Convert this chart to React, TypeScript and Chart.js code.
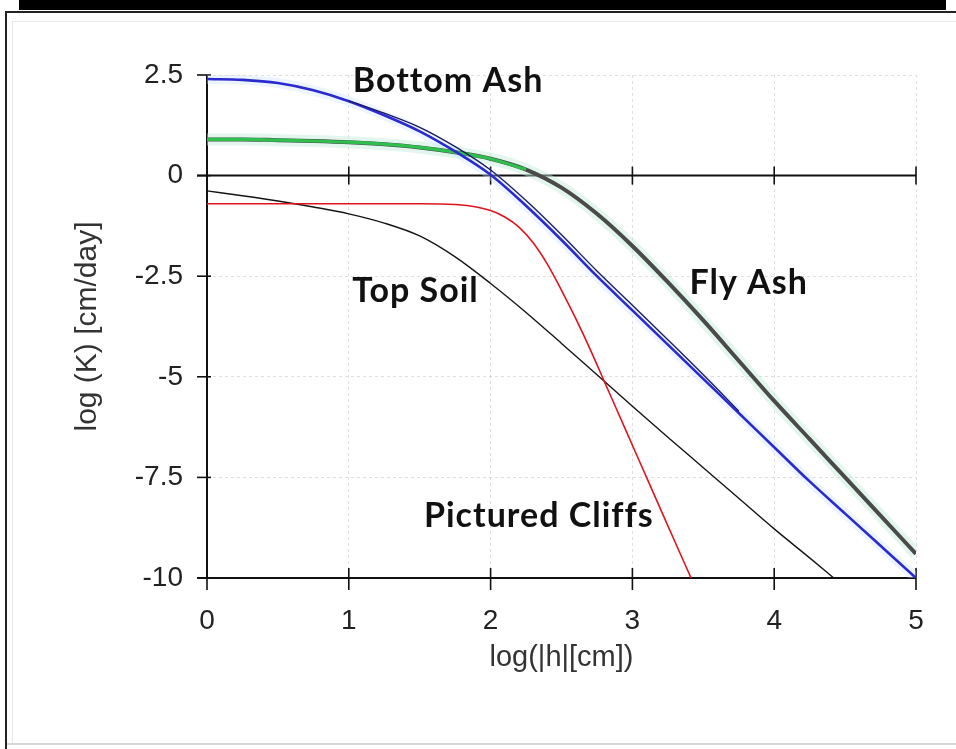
import React, { useEffect, useRef } from "react";
import { Chart, registerables } from "chart.js";

Chart.register(...registerables);

// ---- data ----
const bottomAshX = [0, 0.25, 0.5, 0.75, 1.0, 1.25, 1.5, 1.75, 2.0, 2.25, 2.5, 2.75, 3.0, 3.25, 3.5, 3.75, 4.0, 4.25, 4.5, 4.75, 5.0];
const bottomAshY = [2.4, 2.38, 2.3, 2.12, 1.85, 1.5, 1.1, 0.6, 0.02, -0.75, -1.6, -2.5, -3.35, -4.2, -5.05, -5.9, -6.75, -7.6, -8.4, -9.2, -10.0];

const bottomAshFitX = [1.0, 1.25, 1.5, 1.75, 2.0, 2.25, 2.5, 2.75, 3.0, 3.25, 3.5, 3.75];
const bottomAshFitY = [1.86, 1.55, 1.2, 0.72, 0.14, -0.62, -1.47, -2.37, -3.22, -4.08, -4.95, -5.85];

const flyAshX = [0, 0.25, 0.5, 0.75, 1.0, 1.25, 1.5, 1.75, 2.0, 2.25, 2.5, 2.75, 3.0, 3.25, 3.5, 3.75, 4.0, 4.25, 4.5, 4.75, 5.0];
const flyAshY = [0.9, 0.9, 0.88, 0.86, 0.83, 0.78, 0.7, 0.58, 0.42, 0.15, -0.3, -0.95, -1.75, -2.65, -3.6, -4.6, -5.6, -6.55, -7.5, -8.45, -9.4];

const topSoilX = [0, 0.25, 0.5, 0.75, 1.0, 1.25, 1.5, 1.75, 2.0, 2.25, 2.5, 2.75, 3.0, 3.25, 3.5, 3.75, 4.0, 4.25, 4.42];
const topSoilY = [-0.38, -0.5, -0.63, -0.78, -0.95, -1.18, -1.5, -2.02, -2.68, -3.4, -4.17, -4.95, -5.73, -6.5, -7.26, -8.02, -8.78, -9.5, -10.0];

const picturedCliffsX = [0, 0.5, 1.0, 1.5, 1.75, 1.9, 2.0, 2.1, 2.2, 2.3, 2.4, 2.5, 2.6, 2.7, 2.8, 2.9, 3.0, 3.1, 3.2, 3.3, 3.42];
const picturedCliffsY = [-0.7, -0.7, -0.7, -0.7, -0.72, -0.78, -0.87, -1.03, -1.28, -1.67, -2.2, -2.85, -3.55, -4.3, -5.1, -5.9, -6.7, -7.5, -8.3, -9.1, -10.05];

const xTicks = [0, 1, 2, 3, 4, 5];
const xTickLabels = ["0", "1", "2", "3", "4", "5"];
const yTicks = [2.5, 0, -2.5, -5, -7.5, -10];
const yTickLabels = ["2.5", "0", "-2.5", "-5", "-7.5", "-10"];

const xTitle = "log(|h|[cm])";
const yTitle = "log (K) [cm/day]";

const curveLabels = ["Bottom Ash", "Top Soil", "Fly Ash", "Pictured Cliffs"];
const curveLabelX = [1.7, 1.47, 3.82, 2.34];
const curveLabelY = [2.36, -2.87, -2.67, -8.47];

const pts = (xs: number[], ys: number[]) => xs.map((x, i) => ({ x, y: ys[i] }));

const axesPlugin = {
  id: "axesPlugin",
  beforeDatasetsDraw(chart: any) {
    const { ctx, scales } = chart;
    const xs = scales.x;
    const ys = scales.y;
    ctx.save();
    ctx.strokeStyle = "#111";
    ctx.lineWidth = 2;
    const x0 = xs.getPixelForValue(0);
    const x5 = xs.getPixelForValue(5);
    const yTop = ys.getPixelForValue(2.5);
    const yBot = ys.getPixelForValue(-10);
    const yZero = ys.getPixelForValue(0);
    ctx.beginPath();
    ctx.moveTo(x0, yTop);
    ctx.lineTo(x0, yBot);
    ctx.stroke();
    ctx.beginPath();
    ctx.moveTo(x0 - 10, yBot);
    ctx.lineTo(x5, yBot);
    ctx.stroke();
    ctx.beginPath();
    ctx.moveTo(x0 - 10, yZero);
    ctx.lineTo(x5, yZero);
    ctx.stroke();
    ctx.lineWidth = 1.6;
    yTicks.forEach((v) => {
      const p = ys.getPixelForValue(v);
      ctx.beginPath();
      ctx.moveTo(x0 - 10, p);
      ctx.lineTo(x0 + 4, p);
      ctx.stroke();
    });
    xTicks.forEach((v) => {
      const p = xs.getPixelForValue(v);
      ctx.beginPath();
      ctx.moveTo(p, yBot - 10);
      ctx.lineTo(p, yBot + 12);
      ctx.stroke();
      if (v > 0) {
        ctx.beginPath();
        ctx.moveTo(p, yZero - 9);
        ctx.lineTo(p, yZero + 9);
        ctx.stroke();
      }
    });
    ctx.restore();
  },
  afterDatasetsDraw(chart: any) {
    const { ctx, scales } = chart;
    ctx.save();
    ctx.fillStyle = "#111";
    ctx.font = "bold 34px Lato, 'Open Sans', sans-serif";
    try { (ctx as any).letterSpacing = "1px"; } catch (e) {}
    ctx.textAlign = "center";
    ctx.textBaseline = "middle";
    curveLabels.forEach((t, i) => {
      ctx.fillText(t, scales.x.getPixelForValue(curveLabelX[i]), scales.y.getPixelForValue(curveLabelY[i]));
    });
    ctx.restore();
  },
};

export default function App() {
  const ref = useRef<HTMLCanvasElement | null>(null);
  useEffect(() => {
    if (!ref.current) return;
    const line = {
      showLine: true,
      pointRadius: 0,
      pointHoverRadius: 0,
      cubicInterpolationMode: "monotone" as const,
      fill: false,
    };
    const chart = new Chart(ref.current, {
      type: "scatter",
      data: {
        datasets: [
          { ...line, label: "Pictured Cliffs", data: pts(picturedCliffsX, picturedCliffsY), borderColor: "#e0141e", borderWidth: 1.6, order: 1 },
          { ...line, label: "Top Soil", data: pts(topSoilX, topSoilY), borderColor: "#151515", borderWidth: 1.4, order: 2 },
          { ...line, label: "Bottom Ash fit", data: pts(bottomAshFitX, bottomAshFitY), borderColor: "#1a1a60", borderWidth: 1.3, order: 3 },
          { ...line, label: "Bottom Ash", data: pts(bottomAshX, bottomAshY), borderColor: "#2a2ad0", borderWidth: 2.6, order: 4 },
          { ...line, label: "Fly Ash green", data: pts(flyAshX.slice(0, 10), flyAshY.slice(0, 10)), borderColor: "#2fbf4f", borderWidth: 3.2, order: 5 },
          { ...line, label: "Fly Ash", data: pts(flyAshX, flyAshY), borderColor: "#4a4a4a", borderWidth: 4, order: 6 },
          { ...line, label: "Fly Ash halo", data: pts(flyAshX, flyAshY), borderColor: "rgba(190,235,215,0.45)", borderWidth: 12, order: 7 },
          { ...line, label: "Bottom Ash halo", data: pts(bottomAshX, bottomAshY), borderColor: "rgba(200,225,255,0.35)", borderWidth: 10, order: 8 },
        ],
      },
      options: {
        animation: false,
        responsive: false,
        events: [],
        layout: { padding: { top: 75, right: 40, left: 0, bottom: 0 } },
        plugins: { legend: { display: false }, tooltip: { enabled: false } },
        scales: {
          x: {
            type: "linear",
            min: 0,
            max: 5,
            afterFit: (s: any) => { s.height = 171; },
            afterBuildTicks: (s: any) => { s.ticks = xTicks.map((v) => ({ value: v })); },
            ticks: {
              padding: 26,
              color: "#222",
              font: { family: "'Liberation Sans', Arial, sans-serif", size: 28 },
              callback: (v: any) => xTickLabels[xTicks.indexOf(Number(v))] ?? "",
            },
            grid: { color: "rgba(185,185,185,0.45)", lineWidth: 1, drawTicks: false },
            border: { display: false, dash: [3, 3] },
            title: {
              display: true,
              text: xTitle,
              color: "#333",
              font: { family: "'Liberation Sans', Arial, sans-serif", size: 29 },
              padding: { top: 0, bottom: 74 },
            },
          },
          y: {
            type: "linear",
            min: -10,
            max: 2.5,
            afterFit: (s: any) => { s.width = 207; },
            afterBuildTicks: (s: any) => { s.ticks = yTicks.map((v) => ({ value: v })); },
            ticks: {
              padding: 24,
              color: "#222",
              font: { family: "'Liberation Sans', Arial, sans-serif", size: 28 },
              callback: (v: any) => yTickLabels[yTicks.indexOf(Number(v))] ?? "",
            },
            grid: { color: "rgba(185,185,185,0.45)", lineWidth: 1, drawTicks: false },
            border: { display: false, dash: [3, 3] },
            title: {
              display: true,
              text: yTitle,
              color: "#333",
              font: { family: "'Liberation Sans', Arial, sans-serif", size: 30 },
              padding: { top: 70, bottom: 0 },
            },
          },
        },
      },
      plugins: [axesPlugin],
    });
    return () => chart.destroy();
  }, []);

  return (
    <div style={{ position: "fixed", left: 0, top: 0, width: 956, height: 749, background: "#fff", overflow: "hidden" }}>
      <canvas ref={ref} width={956} height={749} style={{ position: "absolute", left: 0, top: 0, width: 956, height: 749 }} />
      <div style={{ position: "absolute", left: 19, top: 0, width: 927, height: 10, background: "#000" }} />
      <div style={{ position: "absolute", left: 5, top: 11, width: 951, height: 2, background: "#222" }} />
      <div style={{ position: "absolute", left: 5, top: 11, width: 2, height: 738, background: "#222" }} />
      <div style={{ position: "absolute", left: 12, top: 21, width: 944, height: 1, background: "#e6e6e6" }} />
      <div style={{ position: "absolute", left: 12, top: 21, width: 1, height: 722, background: "#e6e6e6" }} />
      <div style={{ position: "absolute", left: 7, top: 743, width: 949, height: 2, background: "#d8d8d8" }} />
    </div>
  );
}
